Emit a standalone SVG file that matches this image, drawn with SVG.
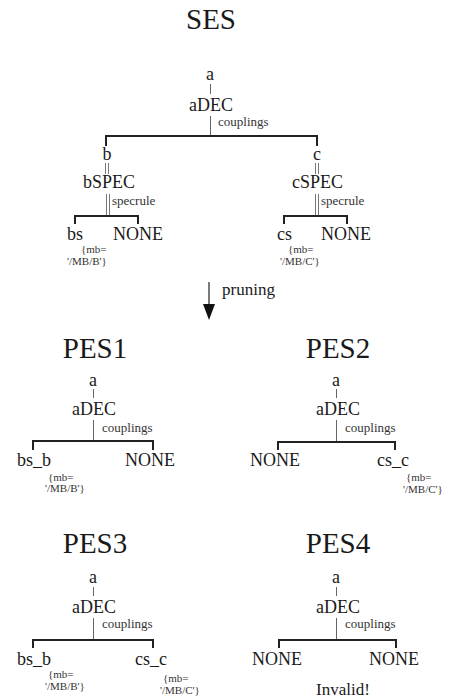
<svg xmlns="http://www.w3.org/2000/svg" width="459" height="700" viewBox="0 0 459 700" font-family="'Liberation Serif', 'DejaVu Serif', serif">
<style>
text{font-family:'Liberation Serif','DejaVu Serif',serif;fill:#1a1a1a}
.t{font-size:29px;text-anchor:middle}
.n{font-size:18px}
.c{text-anchor:middle}
.l{font-size:13px;fill:#333}
.m{font-size:11px;fill:#333}
.bar{stroke:#222;stroke-width:2;fill:none}
.thin{stroke:#666;stroke-width:1;fill:none}
.dbl{stroke:#777;stroke-width:1;fill:none}
</style>
<rect width="459" height="700" fill="#fff"/>
<g id="connectors">
  <line class="thin" x1="210.5" y1="84" x2="210.5" y2="94"/>
  <line class="thin" x1="210.5" y1="116" x2="210.5" y2="136"/>
  <polyline class="bar" points="106,146 106,136 317,136 317,146"/>
  <line class="dbl" x1="105.5" y1="163" x2="105.5" y2="174"/>
  <line class="dbl" x1="108.5" y1="163" x2="108.5" y2="174"/>
  <line class="dbl" x1="106.5" y1="194" x2="106.5" y2="216"/>
  <line class="dbl" x1="109.5" y1="194" x2="109.5" y2="216"/>
  <polyline class="bar" points="75,224 75,216 138,216 138,224"/>
  <line class="dbl" x1="315.5" y1="163" x2="315.5" y2="174"/>
  <line class="dbl" x1="318.5" y1="163" x2="318.5" y2="174"/>
  <line class="dbl" x1="315.5" y1="194" x2="315.5" y2="216"/>
  <line class="dbl" x1="318.5" y1="194" x2="318.5" y2="216"/>
  <polyline class="bar" points="284,224 284,216 347,216 347,224"/>
  <line stroke="#222" stroke-width="1.2" x1="209" y1="282" x2="209" y2="306"/>
  <polygon fill="#111" points="203,304 215,304 209,320"/>
  <line class="thin" x1="93.5" y1="389" x2="93.5" y2="398"/>
  <line class="thin" x1="93.5" y1="420" x2="93.5" y2="441"/>
  <polyline class="bar" points="33,450 33,441 153,441 153,450"/>
  <line class="thin" x1="336.5" y1="389" x2="336.5" y2="398"/>
  <line class="thin" x1="336.5" y1="420" x2="336.5" y2="442"/>
  <polyline class="bar" points="278,450 278,442 395,442 395,450"/>
  <line class="thin" x1="93.5" y1="587" x2="93.5" y2="596"/>
  <line class="thin" x1="93.5" y1="618" x2="93.5" y2="640"/>
  <polyline class="bar" points="33,648 33,640 153,640 153,648"/>
  <line class="thin" x1="336.5" y1="587" x2="336.5" y2="596"/>
  <line class="thin" x1="336.5" y1="618" x2="336.5" y2="640"/>
  <polyline class="bar" points="279,648 279,640 396,640 396,648"/>
</g>
<g id="ses">
  <text class="t" x="211" y="29">SES</text>
  <g id="ses-a"><text class="n c" x="210" y="80">a</text></g>
  <g id="ses-aDEC"><text class="n c" x="211" y="111">aDEC</text><text class="l" x="218" y="126">couplings</text></g>
  <g id="ses-b"><text class="n c" x="107" y="160">b</text></g>
  <g id="ses-bSPEC"><text class="n" x="83" y="188">bSPEC</text><text class="l" x="112" y="205">specrule</text></g>
  <g id="ses-bs"><text class="n" x="67" y="240">bs</text><text class="m" x="81" y="253">{mb=</text><text class="m" x="67" y="265">'/MB/B'}</text></g>
  <g id="ses-bnone"><text class="n" x="113" y="240">NONE</text></g>
  <g id="ses-c"><text class="n c" x="317" y="160">c</text></g>
  <g id="ses-cSPEC"><text class="n" x="292" y="188">cSPEC</text><text class="l" x="321" y="205">specrule</text></g>
  <g id="ses-cs"><text class="n" x="277" y="240">cs</text><text class="m" x="288" y="253">{mb=</text><text class="m" x="280" y="265">'/MB/C'}</text></g>
  <g id="ses-cnone"><text class="n" x="321" y="240">NONE</text></g>
</g>
<g id="pruning"><text x="222" y="295" style="font-size:17px">pruning</text></g>
<g id="pes1">
  <text class="t" x="95" y="358">PES1</text>
  <g id="pes1-a"><text class="n c" x="93" y="386">a</text></g>
  <g id="pes1-aDEC"><text class="n c" x="94" y="415">aDEC</text><text class="l" x="102" y="432">couplings</text></g>
  <g id="pes1-bs_b"><text class="n" x="17" y="466">bs_b</text><text class="m" x="48" y="481">{mb=</text><text class="m" x="45" y="492">'/MB/B'}</text></g>
  <g id="pes1-none"><text class="n" x="125" y="466">NONE</text></g>
</g>
<g id="pes2">
  <text class="t" x="338" y="358">PES2</text>
  <g id="pes2-a"><text class="n c" x="336" y="386">a</text></g>
  <g id="pes2-aDEC"><text class="n c" x="338" y="415">aDEC</text><text class="l" x="345" y="432">couplings</text></g>
  <g id="pes2-none"><text class="n" x="250" y="466">NONE</text></g>
  <g id="pes2-cs_c"><text class="n" x="377" y="466">cs_c</text><text class="m" x="406" y="481">{mb=</text><text class="m" x="403" y="493">'/MB/C'}</text></g>
</g>
<g id="pes3">
  <text class="t" x="95" y="553">PES3</text>
  <g id="pes3-a"><text class="n c" x="93" y="583">a</text></g>
  <g id="pes3-aDEC"><text class="n c" x="94" y="613">aDEC</text><text class="l" x="102" y="628">couplings</text></g>
  <g id="pes3-bs_b"><text class="n" x="17" y="665">bs_b</text><text class="m" x="48" y="678">{mb=</text><text class="m" x="45" y="690">'/MB/B'}</text></g>
  <g id="pes3-cs_c"><text class="n" x="135" y="665">cs_c</text><text class="m" x="163" y="682">{mb=</text><text class="m" x="160" y="694">'/MB/C'}</text></g>
</g>
<g id="pes4">
  <text class="t" x="338" y="553">PES4</text>
  <g id="pes4-a"><text class="n c" x="336" y="583">a</text></g>
  <g id="pes4-aDEC"><text class="n c" x="338" y="613">aDEC</text><text class="l" x="345" y="628">couplings</text></g>
  <g id="pes4-none1"><text class="n" x="252" y="665">NONE</text></g>
  <g id="pes4-none2"><text class="n" x="369" y="665">NONE</text></g>
  <text x="316" y="695" style="font-size:17px">Invalid!</text>
</g>
</svg>
